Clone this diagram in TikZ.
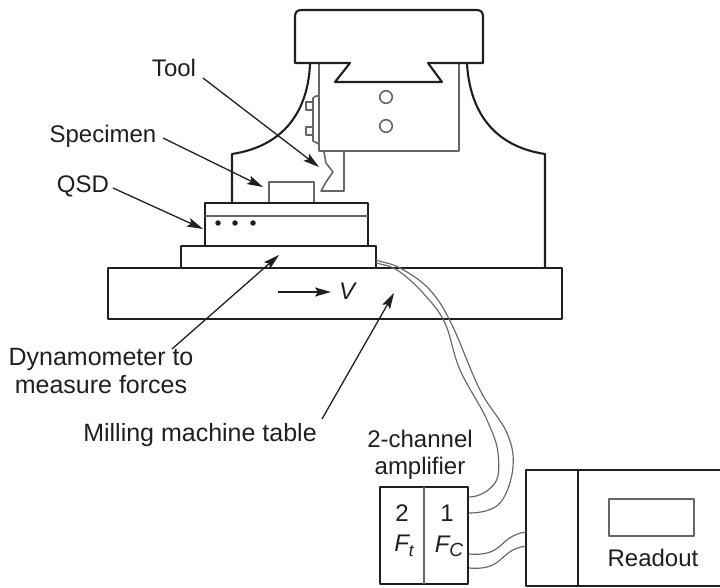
\documentclass[tikz,border=0pt]{standalone}
\usepackage{fontspec}
\setmainfont{Liberation Sans}
\usetikzlibrary{arrows.meta}
\definecolor{inkc}{gray}{0.12}
\definecolor{thinc}{gray}{0.4}
\tikzset{
  heavy/.style={draw=inkc,line width=2.1pt,line join=round},
  light/.style={draw=thinc,line width=1.6pt,line join=round},
  cable/.style={draw=thinc,line width=1.15pt},
  pointer/.style={draw=inkc,line width=1.3pt,-{Stealth[length=16pt,width=9pt,inset=3pt]}},
  lbl/.style={font=\fontsize{24}{27}\selectfont,text=inkc,inner sep=0pt,align=center},
  dotc/.style={fill=inkc,draw=none,circle,minimum size=5.5pt,inner sep=0pt}
}
\begin{document}
\begin{tikzpicture}[x=1pt,y=-1pt]
\useasboundingbox (0,0) rectangle (720,588);
% frame column
\draw[heavy] (310,64) .. controls (308,110) and (285,146) .. (232,154) -- (232,203);
\draw[heavy] (467,64) .. controls (470,110) and (492,146) .. (545,154) -- (545,268);
% grey carrier
\draw[light] (319,64) -- (319,151) -- (459,151) -- (459,64);
\draw[light] (386,97) circle (6.3);
\draw[light] (386,126) circle (6.3);
\draw[light] (319,96) -- (316,96) -- (313,98) -- (313,141) -- (319,144);
\draw[light] (313,102) -- (306,102) -- (306,110) -- (313,110);
\draw[light] (313,127) -- (306,127) -- (306,135) -- (313,135);
% tool
\draw[light] (324,152) -- (326,163) -- (333,172) -- (326,182) -- (321,191) -- (344,191) -- (344,152);
% head
\draw[heavy,fill=white] (295,63) -- (295,17) .. controls (295,12) and (297,10) .. (302,10)
  -- (476,10) .. controls (481,10) and (483,12) .. (483,17) -- (483,63) -- (428,63)
  -- (442,82) -- (335,82) -- (350,63) -- cycle;
% specimen
\draw[light] (269,203) -- (269,182) -- (314,182) -- (314,203);
% QSD
\draw[heavy] (205,246) -- (205,203) -- (368,203) -- (368,246);
\draw[light] (205,216) -- (368,216);
\node[dotc] (d1) at (218,223) {};
\node[dotc] (d2) at (235,223) {};
\node[dotc] (d3) at (253,223) {};
% dynamometer
\draw[heavy] (181,268) -- (181,246) -- (376,246) -- (376,268);
% table
\draw[heavy] (108,268) rectangle (562,319);
% amplifier
\draw[heavy] (380,487) rectangle (468,584);
\draw[light] (424,487) -- (424,584);
% readout
\draw[heavy] (725,470) -- (526,470) -- (526,586) -- (725,586);
\draw[heavy] (578,470) -- (578,586);
\draw[light] (609,499) rectangle (694,536);
% labels
\node[lbl] (tool) at (174,68) {Tool};
\node[lbl] (spec) at (103,136) {Specimen};
\node[lbl] (qsd) at (83,186) {QSD};
\node[lbl,font=\fontsize{25}{28}\selectfont] (dyn) at (101,371) {Dynamometer to\\measure forces};
\node[lbl,font=\fontsize{25}{28}\selectfont] (mill) at (200,435) {Milling machine table};
\node[lbl] (ampl) at (420,455) {2-channel\\amplifier};
\node[lbl] (ch2) at (402,513) {2};
\node[lbl] (ch1) at (447,513) {1};
\node[lbl] (ft) at (404,546) {\itshape F\raisebox{-5pt}{\fontsize{17}{18}\selectfont t}};
\node[lbl] (fc) at (449,546) {\itshape F\raisebox{-4pt}{\fontsize{19}{20}\selectfont C}};
\node[lbl] (read) at (653,558) {Readout};
\node[lbl] (v) at (347,291) {\itshape V};
% pointers
\coordinate (ptool) at (319,167);
\coordinate (pspec) at (263,187);
\coordinate (pqsd) at (203,229);
\coordinate (pdyn) at (279,255);
\coordinate (pmill) at (394,293);
\coordinate (vs) at (278,292);
\coordinate (ve) at (331,292);
\draw[pointer] (203,78) -- (ptool);
\draw[pointer] (163,138) -- (pspec);
\draw[pointer] (113,188) -- (pqsd);
\draw[pointer] (172,349) -- (pdyn);
\draw[pointer] (322,419) -- (pmill);
\draw[pointer] (vs) -- (ve);
% cables
\coordinate (c1s) at (376,260);
\coordinate (c2s) at (376,263);
\coordinate (c1e) at (469,513);
\coordinate (c2e) at (469,497);
\draw[cable] (c1s) .. controls (384,263) and (391,263) .. (400,268)
  .. controls (409,273) and (421,280) .. (430,290)
  .. controls (439,300) and (445,310) .. (453,327)
  .. controls (461,344) and (471,372) .. (480,390)
  .. controls (489,408) and (501.5,420) .. (507,433)
  .. controls (512.5,446) and (514,455) .. (513,467)
  .. controls (512,479) and (507,495) .. (500,503)
  .. controls (493,511) and (479,513) .. (c1e);
\draw[cable] (c2s) .. controls (383,265) and (389,265) .. (397,270)
  .. controls (405,275) and (415,284) .. (423,293)
  .. controls (431,302) and (439,310) .. (445,323)
  .. controls (451,336) and (453,354) .. (460,370)
  .. controls (467,386) and (481,406) .. (487,420)
  .. controls (493,434) and (497,442.5) .. (498,453)
  .. controls (499,463.5) and (500,476) .. (495,483)
  .. controls (490,490) and (480,497) .. (c2e);
\coordinate (r1) at (526,532);
\coordinate (r2) at (526,546);
\coordinate (a1) at (469,554);
\coordinate (a2) at (469,568);
\draw[cable] (a1) .. controls (505,557) and (498,536) .. (r1);
\draw[cable] (a2) .. controls (505,571) and (498,550) .. (r2);
\end{tikzpicture}
\end{document}
